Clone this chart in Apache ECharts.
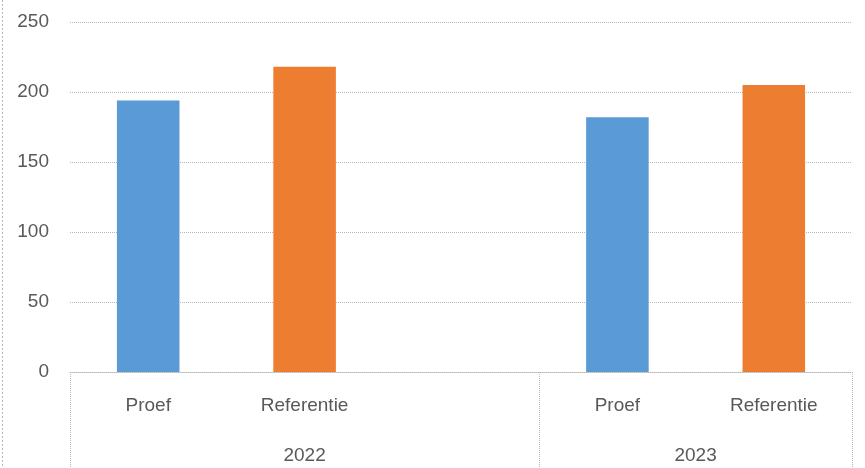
<!DOCTYPE html>
<html>
<head>
<meta charset="utf-8">
<script src="https://cdn.jsdelivr.net/npm/echarts@6/dist/echarts.min.js"></script>
<style>
  html, body { margin: 0; padding: 0; background: #fff; }
  #chart { width: 865px; height: 468px; }
</style>
</head>
<body>
<div id="chart"></div>
<script>
// Sub-categories per slot; the empty slot keeps the gap after 2022.
const categories = ['Proef', 'Referentie', '', 'Proef', 'Referentie'];
const values = [194, 218, null, 182, 205];
const barColors = ['#5B9BD5', '#ED7D31', '#5B9BD5', '#5B9BD5', '#ED7D31'];
// Outer level: years and how many slots each one spans.
const years = ['2022', '2023'];
const yearSpans = [3, 2];
const yTicks = [0, 50, 100, 150, 200, 250];

const textColor = '#595959';
const lineColor = '#b8b8b8';
const fontFamily = "'Liberation Sans', Arial, sans-serif";

// Half-slot positions for the outer axis (boundaryGap false):
// index 2*k is the boundary before slot k, year labels sit at group centres.
const halfSlots = new Array(categories.length * 2 + 1).fill('');
const boundaries = [0];
let start = 0;
years.forEach((y, i) => {
  halfSlots[start + yearSpans[i]] = y;          // centre of group in half-slot units
  start += yearSpans[i] * 2;
  boundaries.push(start);
});

const chart = echarts.init(document.getElementById('chart'), null, { renderer: 'canvas' });
chart.setOption({
  animation: false,
  grid: { left: 70, right: 13, top: 22, bottom: 96 },
  xAxis: [
    {
      type: 'category',
      data: categories,
      axisLine: { show: true, lineStyle: { color: lineColor, type: 'dotted', width: 1 } },
      axisTick: { show: false },
      axisLabel: { interval: 0, margin: 24, color: textColor, fontSize: 19, fontFamily: fontFamily }
    },
    {
      type: 'category',
      position: 'bottom',
      boundaryGap: false,
      data: halfSlots,
      axisLine: { show: false },
      axisTick: {
        show: true,
        length: 96,
        interval: (idx) => boundaries.includes(idx),
        lineStyle: { color: lineColor, type: 'dotted', width: 1 }
      },
      axisLabel: { interval: 0, margin: 74, color: textColor, fontSize: 19, fontFamily: fontFamily },
      splitLine: { show: false }
    }
  ],
  yAxis: {
    type: 'value',
    min: yTicks[0],
    max: yTicks[yTicks.length - 1],
    interval: yTicks[1] - yTicks[0],
    axisLine: { show: false },
    axisTick: { show: false },
    axisLabel: { margin: 21, color: textColor, fontSize: 19, fontFamily: fontFamily },
    splitLine: { show: true, lineStyle: { color: lineColor, type: 'dotted', width: 1 } }
  },
  series: [
    {
      type: 'bar',
      xAxisIndex: 0,
      barWidth: '40%',
      data: values.map((v, i) => ({ value: v, itemStyle: { color: barColors[i] } }))
    }
  ],
  graphic: [
    {
      type: 'line',
      shape: { x1: 2.5, y1: 0, x2: 2.5, y2: 468 },
      style: { stroke: lineColor, lineDash: [2, 2], lineWidth: 1 }
    }
  ]
});
</script>
</body>
</html>
